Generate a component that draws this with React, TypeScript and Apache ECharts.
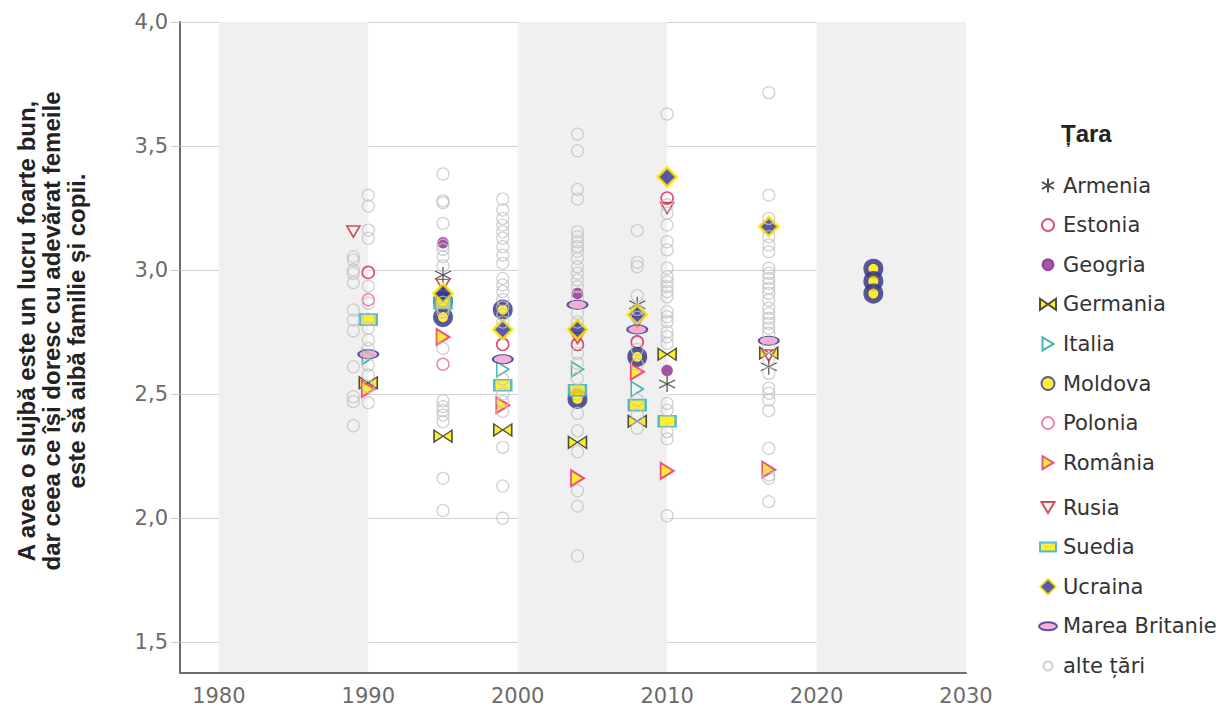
import React, { useEffect, useRef } from 'react';
import * as echarts from 'echarts';

// ---------- axis / band data ----------
const xTicks = [1980, 1990, 2000, 2010, 2020, 2030];
const yTicks = [1.5, 2.0, 2.5, 3.0, 3.5, 4.0];
const bandStarts = [1980, 2000, 2020];
const bandEnds = [1990, 2010, 2030];

// ---------- highlighted countries: [year, value] ----------
const armenia = [[1995, 2.98], [2008, 2.86], [2010, 2.54], [2016.8, 2.61]];
const estonia = [[1990, 2.99], [1999, 2.70], [2004, 2.70], [2008, 2.71], [2010, 3.29]];
const geogria = [[1995, 3.11], [2004, 2.905], [2010, 2.595]];
const germania = [[1990, 2.545], [1995, 2.33], [1999, 2.355], [2004, 2.305], [2008, 2.39], [2010, 2.66], [2016.8, 2.665]];
const italia = [[1990, 2.65], [1999, 2.60], [2004, 2.60], [2008, 2.52]];
const moldova = [[1995, 2.875], [1995, 2.81], [1999, 2.84], [2004, 2.48], [2008, 2.65], [2023.8, 3.005], [2023.8, 2.955], [2023.8, 2.905]];
const polonia = [[1990, 2.88], [1995, 2.62]];
const romania = [[1990, 2.52], [1995, 2.73], [1999, 2.455], [2004, 2.16], [2008, 2.59], [2010, 2.19], [2016.8, 2.195]];
const rusia = [[1989, 3.155], [1995, 2.94], [2004, 2.725], [2008, 2.79], [2010, 3.25], [2016.8, 2.655]];
const suedia = [[1990, 2.80], [1995, 2.865], [1999, 2.535], [2004, 2.515], [2008, 2.455], [2010, 2.39]];
const ucraina = [[1995, 2.905], [1999, 2.76], [2004, 2.76], [2008, 2.82], [2010, 3.375], [2016.8, 3.175]];
const mareaBritanie = [[1990, 2.66], [1999, 2.64], [2004, 2.86], [2008, 2.76], [2016.8, 2.715]];

// ---------- other countries, per survey year ----------
const otherYears = [1989, 1990, 1995, 1999, 2004, 2008, 2010, 2016.8];
const other1989 = [3.054, 3.04, 3.0, 2.987, 2.949, 2.839, 2.798, 2.755, 2.61, 2.489, 2.469, 2.372];
const other1990 = [3.302, 3.258, 3.161, 3.128, 2.935, 2.866, 2.802, 2.765, 2.718, 2.684, 2.617, 2.577, 2.53, 2.465];
const other1995 = [3.387, 3.279, 3.271, 3.188, 3.1, 3.083, 3.054, 3.016, 2.87, 2.845, 2.83, 2.684, 2.473, 2.449, 2.433, 2.415, 2.388, 2.16, 2.03];
const other1999 = [3.286, 3.242, 3.208, 3.181, 3.154, 3.128, 3.094, 3.06, 3.027, 2.966, 2.94, 2.913, 2.88, 2.85, 2.82, 2.79, 2.56, 2.5, 2.47, 2.43, 2.285, 2.129, 1.999];
const other2004 = [3.548, 3.481, 3.325, 3.286, 3.154, 3.134, 3.114, 3.094, 3.075, 3.047, 3.013, 2.987, 2.96, 2.933, 2.89, 2.825, 2.79, 2.664, 2.624, 2.563, 2.5, 2.422, 2.352, 2.267, 2.11, 2.048, 1.847];
const other2008 = [3.159, 3.031, 3.013, 2.896, 2.84, 2.81, 2.68, 2.62, 2.476, 2.415, 2.362];
const other2010 = [3.629, 3.262, 3.229, 3.181, 3.114, 3.081, 3.007, 2.973, 2.953, 2.933, 2.913, 2.892, 2.832, 2.812, 2.792, 2.751, 2.731, 2.704, 2.462, 2.435, 2.348, 2.319, 2.009];
const other2017 = [3.715, 3.302, 3.208, 3.134, 3.101, 3.074, 3.007, 2.987, 2.966, 2.946, 2.926, 2.906, 2.879, 2.846, 2.825, 2.805, 2.785, 2.765, 2.745, 2.69, 2.64, 2.583, 2.523, 2.503, 2.476, 2.433, 2.281, 2.173, 2.16, 2.066];
const otherValues = [other1989, other1990, other1995, other1999, other2004, other2008, other2010, other2017];

const yTitle = 'A avea o slujbă este un lucru foarte bun,\ndar ceea ce își doresc cu adevărat femeile\neste să aibă familie și copii.';

const legendA = ['Armenia', 'Estonia', 'Geogria', 'Germania', 'Italia', 'Moldova', 'Polonia', 'România'];
const legendB = ['Rusia', 'Suedia', 'Ucraina', 'Marea Britanie', 'alte țări'];

const NAVY = '#2e3192';
const YELLOW = '#ffea00';
const TICK_FONT = 'DejaVu Sans';
const TITLE_FONT = 'Liberation Sans';

const PAD = 'M0 0M20 20';
const legendIcons: Record<string, string> = {
  Armenia: `path://${PAD}M10 3L10 17M4 6.5L16 13.5M4 13.5L16 6.5`,
  Estonia: `path://${PAD}M4 10A6 6 0 1 1 16 10A6 6 0 1 1 4 10Z`,
  Geogria: `path://${PAD}M4.5 10A5.5 5.5 0 1 1 15.5 10A5.5 5.5 0 1 1 4.5 10Z`,
  Germania: `path://${PAD}M2 4.5L10 10L2 15.5ZM18 4.5L10 10L18 15.5Z`,
  Italia: `path://${PAD}M4.5 3.5L15.5 10L4.5 16.5Z`,
  Moldova: `path://${PAD}M3.5 10A6.5 6.5 0 1 1 16.5 10A6.5 6.5 0 1 1 3.5 10Z`,
  Polonia: `path://${PAD}M4 10A6 6 0 1 1 16 10A6 6 0 1 1 4 10Z`,
  'România': `path://${PAD}M4.5 3.5L15.5 10L4.5 16.5Z`,
  Rusia: `path://${PAD}M3.5 4.5L16.5 4.5L10 15.5Z`,
  Suedia: `path://${PAD}M2 5.5H18V14.5H2Z`,
  Ucraina: `path://${PAD}M10 2L18 10L10 18L2 10Z`,
  'Marea Britanie': `path://${PAD}M1 10A9 4 0 1 1 19 10A9 4 0 1 1 1 10Z`,
  'alte țări': `path://${PAD}M5.5 10A4.5 4.5 0 1 1 14.5 10A4.5 4.5 0 1 1 5.5 10Z`,
};

const STAR = 'path://M8 0L8 16M1 4L15 12M1 12L15 4';
const RIGHT_TRI = 'path://M0 0L12 7L0 14Z';
const DOWN_TRI = 'path://M0 0L14 0L7 12Z';
const BOWTIE = 'path://M0 0L9 6L0 12ZM18 0L9 6L18 12Z';
const ELLIPSE = 'path://M0 5A10 5 0 1 1 20 5A10 5 0 1 1 0 5Z';

function scatter(name: string, data: number[][], symbol: string, symbolSize: any, itemStyle: any, z = 2) {
  return {
    type: 'scatter',
    name,
    data,
    symbol,
    symbolSize,
    itemStyle,
    z,
    emphasis: { disabled: true },
  };
}

export default function App() {
  const ref = useRef<HTMLDivElement>(null);

  useEffect(() => {
    if (!ref.current) return;
    const chart = echarts.init(ref.current, undefined, { renderer: 'svg' });

    const otherData: number[][] = [];
    otherYears.forEach((yr, i) => otherValues[i].forEach((v) => otherData.push([yr, v])));

    const bands = bandStarts.map((s, i) => [{ xAxis: s }, { xAxis: bandEnds[i] }]);

    const legendCommon = {
      orient: 'vertical',
      left: 1032,
      itemWidth: 20,
      itemHeight: 20,
      itemGap: 17.6,
      symbolKeepAspect: true,
      selectedMode: false,
      textStyle: { fontFamily: TICK_FONT, fontSize: 21, color: '#333' },
    };

    const option: any = {
      animation: false,
      backgroundColor: '#ffffff',
      grid: { left: 180, right: 254, top: 22, bottom: 35, containLabel: false },
      title: {
        text: 'Țara',
        left: 1061,
        top: 121,
        padding: 0,
        textStyle: { fontFamily: TITLE_FONT, fontWeight: 'bold', fontSize: 24, color: '#222' },
      },
      legend: [
        {
          ...legendCommon,
          top: 169.5,
          data: legendA.map((n) => ({ name: n, icon: legendIcons[n] })),
        },
        {
          ...legendCommon,
          top: 491.5,
          data: legendB.map((n) => ({ name: n, icon: legendIcons[n] })),
        },
      ],
      xAxis: {
        type: 'value',
        min: 1977.4,
        max: 2030,
        z: 1,
        axisLine: { show: true, lineStyle: { color: '#6e6e6e', width: 2 } },
        axisTick: { show: false },
        splitLine: { show: false },
        axisLabel: {
          customValues: xTicks,
          margin: 12,
          color: '#6b6b6b',
          fontFamily: TICK_FONT,
          fontSize: 21,
          formatter: (v: number) => (Math.abs(v % 10) < 1e-6 ? String(v) : ''),
        },
      },
      yAxis: {
        type: 'value',
        min: 1.375,
        max: 4,
        z: 1,
        axisLine: { show: true, lineStyle: { color: '#6e6e6e', width: 2 } },
        axisTick: { show: true, customValues: yTicks, length: 9, lineStyle: { color: '#cccccc', width: 1 } },
        splitLine: { show: true, lineStyle: { color: '#d2d2d2', width: 1 } },
        axisLabel: {
          customValues: yTicks,
          margin: 12,
          color: '#6b6b6b',
          fontFamily: TICK_FONT,
          fontSize: 21,
          formatter: (v: number) =>
            Math.abs(v * 2 - Math.round(v * 2)) < 1e-6 ? v.toFixed(1).replace('.', ',') : '',
        },
      },
      graphic: [
        {
          type: 'text',
          x: 51,
          y: 331,
          rotation: Math.PI / 2,
          style: {
            text: yTitle,
            fontFamily: TITLE_FONT,
            fontWeight: 'bold',
            fontSize: 24,
            lineHeight: 25,
            fill: '#222',
            align: 'center',
            verticalAlign: 'middle',
            textAlign: 'center',
            textVerticalAlign: 'middle',
          },
        },
      ],
      series: [
        {
          type: 'scatter',
          name: 'bands',
          data: [],
          z: 0,
          silent: true,
          markArea: {
            silent: true,
            itemStyle: { color: '#f0f0f0' },
            data: bands,
          },
        },
        scatter('Armenia', armenia, STAR, 16, { color: 'transparent', borderColor: '#222', borderWidth: 1.2 }),
        scatter('Estonia', estonia, 'circle', 12, { color: 'transparent', borderColor: '#d6204f', borderWidth: 1.6 }),
        scatter('Geogria', geogria, 'circle', 11, { color: '#8e2a8f', borderColor: '#8e2a8f', borderWidth: 0.5 }),
        scatter('Germania', germania, BOWTIE, [18, 12], { color: YELLOW, borderColor: '#222', borderWidth: 1.3 }),
        scatter('Italia', italia, RIGHT_TRI, [12, 15], { color: 'transparent', borderColor: '#17a398', borderWidth: 1.6 }),
        scatter('Moldova', moldova, 'circle', 15, { color: YELLOW, borderColor: NAVY, borderWidth: 5 }),
        scatter('Polonia', polonia, 'circle', 12, { color: 'transparent', borderColor: '#f0609f', borderWidth: 1.4 }),
        scatter('România', romania, RIGHT_TRI, [13, 16], { color: YELLOW, borderColor: '#ec2a7b', borderWidth: 2 }),
        scatter('Rusia', rusia, DOWN_TRI, [13, 11], { color: 'transparent', borderColor: '#c1272d', borderWidth: 1.6 }),
        scatter('Suedia', suedia, 'rect', [17, 11], { color: YELLOW, borderColor: '#29abe2', borderWidth: 2 }),
        scatter('Ucraina', ucraina, 'diamond', [19, 19], { color: NAVY, borderColor: YELLOW, borderWidth: 3 }),
        scatter('Marea Britanie', mareaBritanie, ELLIPSE, [20, 9], { color: '#f29ec8', borderColor: NAVY, borderWidth: 1.5 }),
        scatter('alte țări', otherData, 'circle', 12, { color: 'transparent', borderColor: '#c3c3c3', borderWidth: 1.2 }, 3),
      ],
    };

    chart.setOption(option);
    return () => chart.dispose();
  }, []);

  return <div ref={ref} style={{ position: 'absolute', left: 0, top: 0, width: 1220, height: 708 }} />;
}
